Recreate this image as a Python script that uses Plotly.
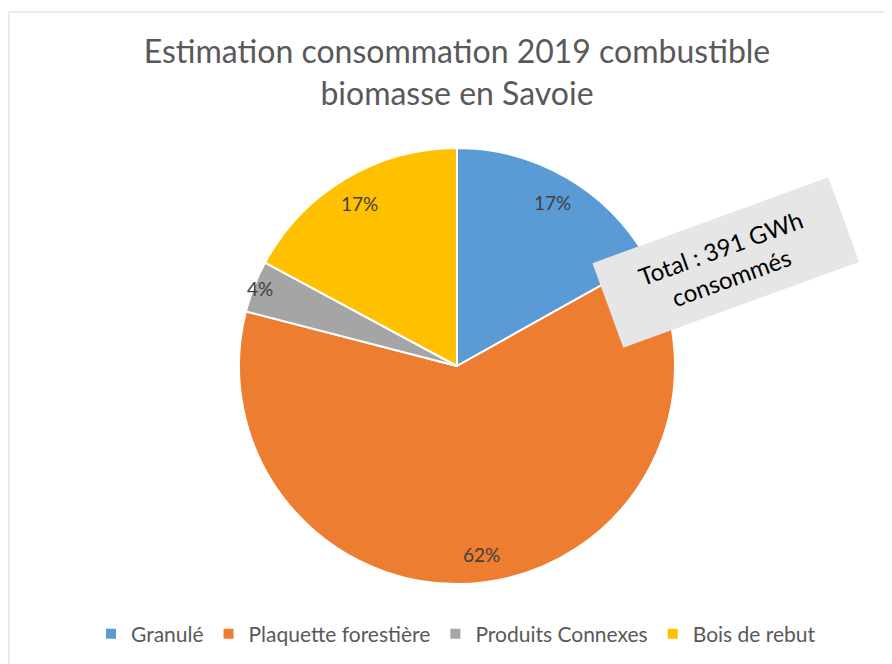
import math
import plotly.graph_objects as go

categories = ["Granulé", "Plaquette forestière", "Produits Connexes", "Bois de rebut"]
values_gwh = [66, 243, 15, 67]
colors = ["#5B9BD5", "#ED7D31", "#A5A5A5", "#FFC000"]
title_text = "Estimation consommation 2019 combustible<br>biomasse en Savoie"
total_text = "Total : 391 GWh<br>consommés"

# the page body adds an 8px margin, so the figure is drawn 8px smaller and
# all reference pixel positions are shifted by that offset
OFF = 8
W, H = 892 - OFF, 664 - OFF
FONT = "Lato"
cx, cy, R = 457 - OFF, 366 - OFF, 218


def px_x(x):
    return (x - OFF) / W


def px_y(y):
    return 1 - (y - OFF) / H


fig = go.Figure(go.Pie(
    labels=categories,
    values=values_gwh,
    marker=dict(colors=colors, line=dict(color="white", width=2)),
    sort=False,
    direction="clockwise",
    rotation=0,
    textinfo="none",
    hoverinfo="label+value+percent",
    domain=dict(x=[(cx - R) / W, (cx + R) / W], y=[(H - cy - R) / H, (H - cy + R) / H]),
))

annotations = []
total = sum(values_gwh)
cum = 0
for v in values_gwh:
    frac = v / total
    mid = (cum + v / 2) / total
    cum += v
    k = 0.97 if frac < 0.1 else 0.87
    th = 2 * math.pi * mid
    px = cx + R * k * math.sin(th)
    py = cy - R * k * math.cos(th)
    annotations.append(dict(
        x=px / W, y=1 - py / H, xref="paper", yref="paper",
        xanchor="center", yanchor="middle",
        text=f"{round(frac * 100)}%", showarrow=False,
        font=dict(family=FONT, size=19, color="#404040"),
    ))

annotations.append(dict(
    x=px_x(726), y=px_y(263), xref="paper", yref="paper",
    xanchor="center", yanchor="middle",
    text=total_text, showarrow=False, textangle=-20,
    bgcolor="#E7E6E6", width=248, height=87,
    font=dict(family=FONT, size=24, color="#000000"),
))

fig.update_layout(
    width=W, height=H,
    margin=dict(l=0, r=0, t=0, b=0),
    paper_bgcolor="white",
    title=dict(text=title_text, x=px_x(457), xanchor="center", y=px_y(63), yanchor="middle",
               font=dict(family=FONT, size=32, color="#595959")),
    legend=dict(orientation="h", x=px_x(456), xanchor="center", y=px_y(634), yanchor="middle",
                font=dict(family=FONT, size=21, color="#595959")),
    annotations=annotations,
    shapes=[dict(type="rect", xref="paper", yref="paper", x0=0.001, x1=1.05, y0=-0.05, y1=px_y(12),
                 line=dict(color="#D9D9D9", width=1))],
)

fig.write_html("out.html")
